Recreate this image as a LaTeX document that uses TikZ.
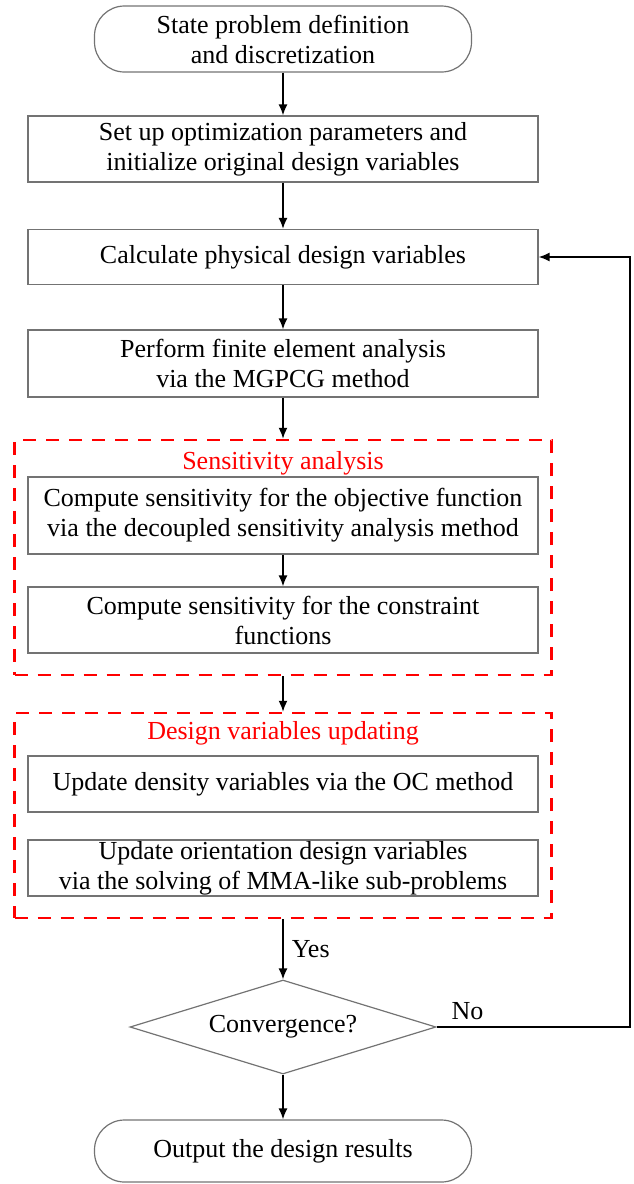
\documentclass[tikz,border=0pt]{standalone}
\usepackage{fontspec}
\setmainfont{Liberation Serif}
\usetikzlibrary{arrows.meta,shapes.geometric}
\begin{document}
\begin{tikzpicture}[x=1pt,y=-1pt,
  font=\fontsize{26}{30}\selectfont,
  box/.style={draw=black!55, line width=1.2pt, minimum width=510pt, align=center, inner sep=0pt},
  term/.style={draw=black!55, line width=1.2pt, rounded corners=30pt, minimum width=377pt, align=center, inner sep=0pt},
  dbox/.style={draw=red, dash pattern=on 13pt off 10pt, line width=2.5pt, minimum width=537pt, inner sep=0pt},
  ttl/.style={text=red},
  dec/.style={draw=black!55, line width=1.2pt, diamond, aspect=3.26, minimum width=306pt, minimum height=94pt, inner sep=0pt},
  arr/.style={-{Latex[length=11pt,width=9pt]}, line width=1.6pt, solid, draw=black},
  lbl/.style={inner sep=2pt}
]
\useasboundingbox (0,0) rectangle (633,1184);

\node[term, minimum height=66pt] (start) at (283,39) {State problem definition\\and discretization};
\node[box, minimum height=66pt] (b2) at (283,149) {Set up optimization parameters and\\initialize original design variables};
\node[box, minimum height=55pt] (b3) at (283,257) {Calculate physical design variables};
\node[box, minimum height=67pt] (b4) at (283,363.5) {Perform finite element analysis\\via the MGPCG method};

\node[dbox, minimum height=235pt] (d1) at (283,557.5) {};
\node[ttl] (t1) at (283,463) {Sensitivity analysis};
\node[box, minimum height=77pt] (bA) at (283,515.5) {Compute sensitivity for the objective function\\via the decoupled sensitivity analysis method};
\node[box, minimum height=66pt] (bB) at (283,620) {Compute sensitivity for the constraint\\functions};

\node[dbox, minimum height=205pt] (d2) at (283,815.5) {};
\node[ttl] (t2) at (283,733) {Design variables updating};
\node[box, minimum height=56pt] (bC) at (283,784) {Update density variables via the OC method};
\node[box, minimum height=56pt] (bD) at (283,868) {Update orientation design variables\\via the solving of MMA-like sub-problems};

\node[dec] (dia) at (283,1027) {Convergence?};
\node[term, minimum height=62pt] (end) at (283,1151) {Output the design results};

\coordinate (fb) at (630,1027);

\draw[arr] (start) -- (b2);
\draw[arr] (b2) -- (b3);
\draw[arr] (b3) -- (b4);
\draw[arr] (b4.south) -- (d1.north);
\draw[arr] (bA) -- (bB);
\path (d1.south) edge[arr] (d2.north);
\draw[arr] (d2.south) -- node[lbl, anchor=west, xshift=6pt] (yes) {Yes} (dia.north);
\draw[arr] (dia) -- (end);
\draw[arr] (dia.east) -- node[lbl, pos=0.16, above=4pt] (no) {No} (fb) |- (b3.east);
\end{tikzpicture}
\end{document}
